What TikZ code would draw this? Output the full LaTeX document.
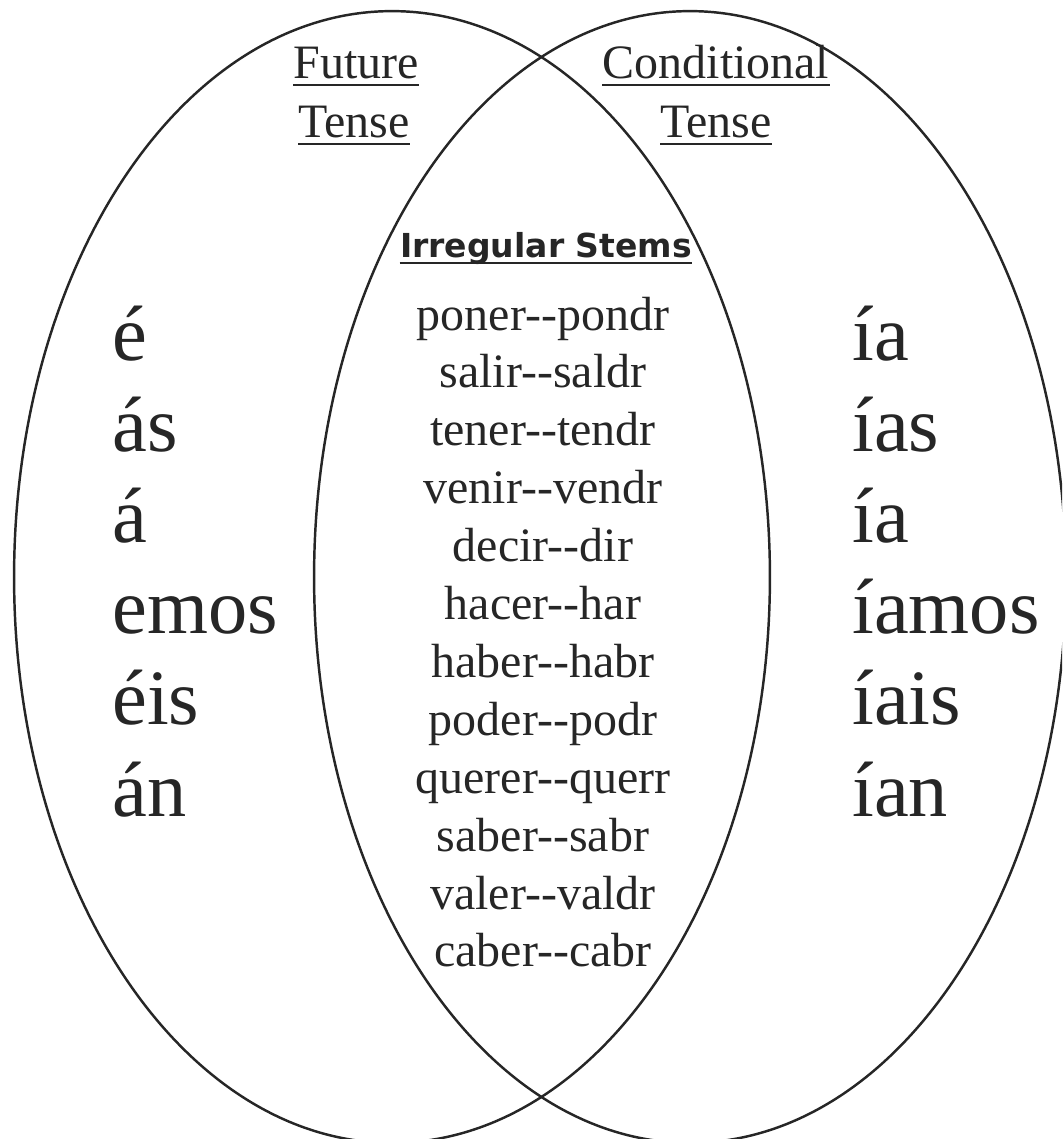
\documentclass[tikz,border=0pt]{standalone}
\usepackage{fontspec}
\setmainfont{Liberation Serif}
\newfontfamily\stemsfont{DejaVu Sans}
\newcommand\dbldash{-\kern0pt-}
\definecolor{ink}{HTML}{262626}
\begin{document}
\begin{tikzpicture}[x=0.02cm,y=-0.02cm,
  venn/.style={draw=ink,line width=1.4pt},
  head/.style={font=\fontsize{27.3}{30}\selectfont, text=ink, inner sep=0pt, anchor=base},
  suf/.style={font=\fontsize{44.6}{50}\selectfont, text=ink, inner sep=0pt, anchor=base west},
  stemline/.style={font=\fontsize{27.3}{30}\selectfont, text=ink, inner sep=0pt, anchor=base},
  uline/.style={draw=ink, line width=1.1pt}]
\useasboundingbox (0,0) rectangle (1062,1139);
\begin{scope}
\clip (0,0) rectangle (1062,1139);
\draw[venn] (392,577) ellipse [x radius=7.56cm, y radius=11.32cm];
\draw[venn] (690,577) ellipse [x radius=7.52cm, y radius=11.32cm];
\end{scope}
% headers
\node[head] (fut) at (356,78) {Future};
\node[head] (ften) at (354,137) {Tense};
\node[head] (cond) at (716,78) {Conditional};
\node[head] (cten) at (716,137) {Tense};
\foreach \n in {fut,ften,cond,cten}
  \draw[uline] ([yshift=-0.14cm]\n.base west) -- ([yshift=-0.14cm]\n.base east);
\node[anchor=base, inner sep=0pt, text=ink, font=\stemsfont\bfseries\fontsize{18.8}{22}\selectfont] (irr) at (546,257) {Irregular Stems};
\draw[uline] ([yshift=-0.12cm]irr.base west) -- ([yshift=-0.12cm]irr.base east);
% stems
\foreach \t [count=\i] in {poner\dbldash pondr, salir\dbldash saldr, tener\dbldash tendr, venir\dbldash vendr, decir\dbldash dir, hacer\dbldash har, haber\dbldash habr, poder\dbldash podr, querer\dbldash querr, saber\dbldash sabr, valer\dbldash valdr, caber\dbldash cabr}
  \node[stemline] (s\i) at (543,{330+57.9*(\i-1)}) {\t};
% suffixes
\foreach \t [count=\i] in {é, ás, á, emos, éis, án}
  \node[suf] (l\i) at (112,{360+91.2*(\i-1)}) {\t};
\foreach \t [count=\i] in {ía, ías, ía, íamos, íais, ían}
  \node[suf] (r\i) at (852,{360+91.2*(\i-1)}) {\t};
\end{tikzpicture}
\end{document}
